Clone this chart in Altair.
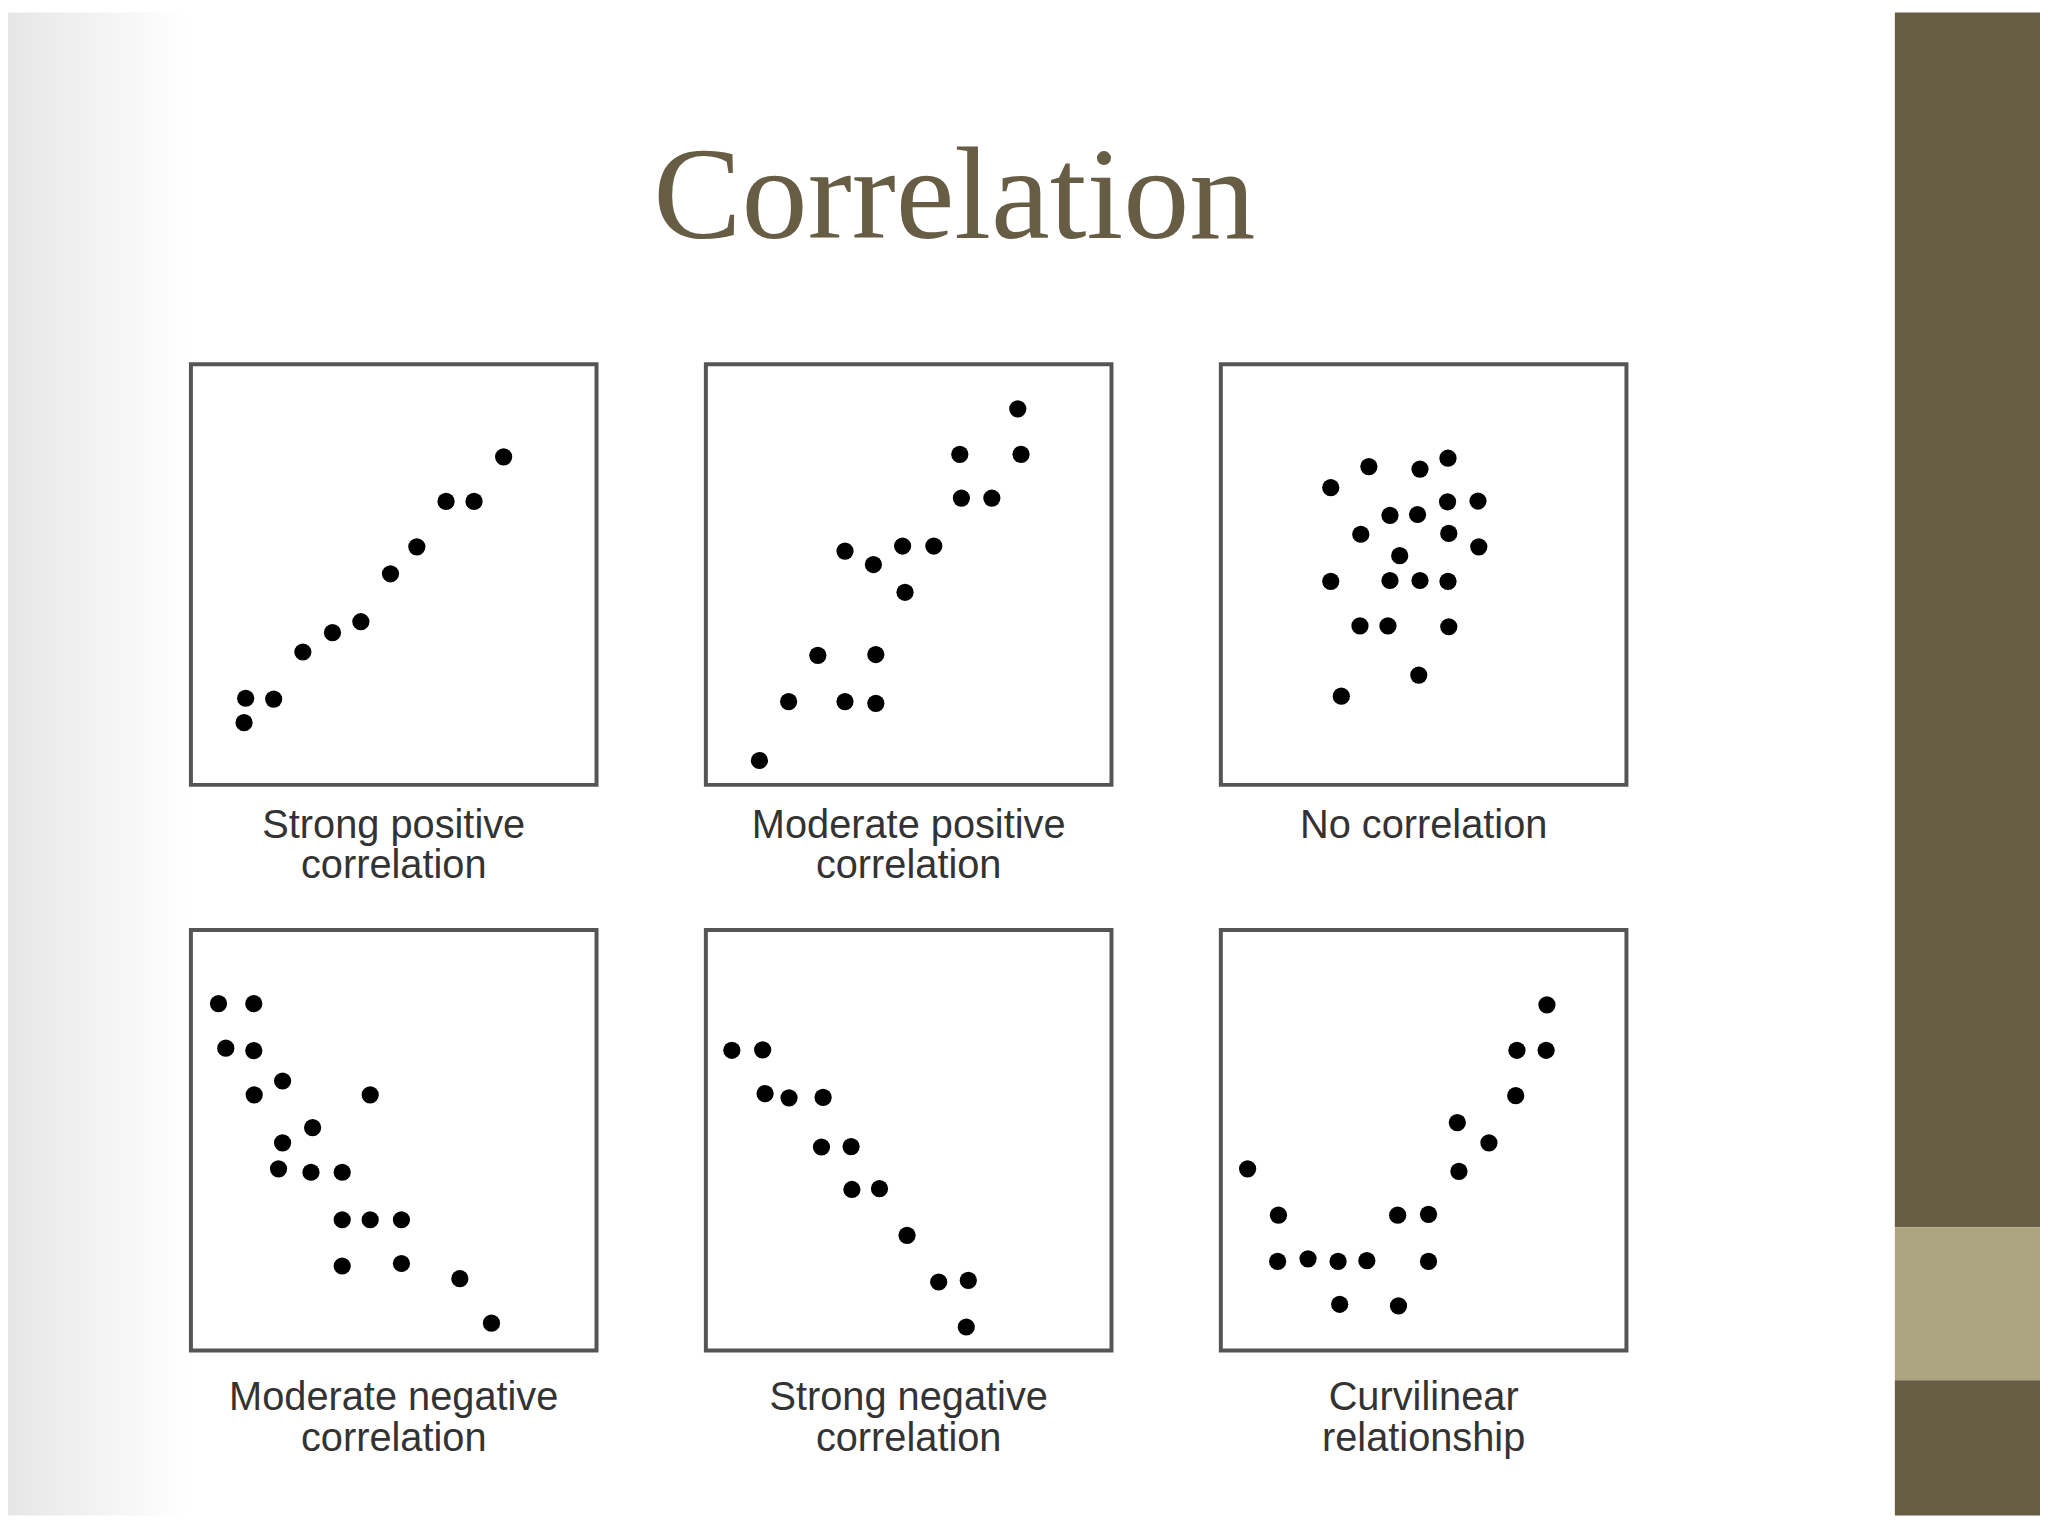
import altair as alt
import pandas as pd

# ---------------- data (panel coordinates, 0-100 in each box) ----------------
sp_x = [77.1, 62.9, 69.8, 55.7, 49.2, 41.9, 34.9, 27.6, 13.5, 20.4, 13.1]
sp_y = [78.0, 67.4, 67.4, 56.6, 50.2, 38.8, 36.2, 31.6, 20.6, 20.4, 14.8]

mp_x = [76.9, 62.6, 77.7, 63.0, 70.5, 34.3, 41.3, 48.5, 56.2, 49.1, 27.6, 41.9, 20.4, 34.3, 41.9, 13.2]
mp_y = [89.4, 78.6, 78.6, 68.2, 68.2, 55.6, 52.4, 56.8, 56.8, 45.8, 30.8, 31.0, 19.8, 19.8, 19.4, 5.8]

nc_x = [36.5, 49.1, 56.0, 27.1, 55.9, 63.4, 41.7, 48.5, 34.5, 56.2, 63.6, 44.1, 27.1, 41.7, 49.1, 56.0,
        34.3, 41.2, 56.2, 48.8, 29.7]
nc_y = [75.7, 75.1, 77.7, 70.7, 67.3, 67.5, 64.1, 64.3, 59.6, 59.8, 56.6, 54.5, 48.4, 48.6, 48.6, 48.4,
        37.8, 37.8, 37.6, 26.1, 21.1]

mn_x = [6.8, 15.5, 8.6, 15.5, 22.6, 15.6, 44.2, 30.0, 22.6, 21.6, 29.6, 37.3, 37.3, 44.2, 51.9, 37.3,
        51.9, 66.3, 74.1]
mn_y = [82.5, 82.5, 71.9, 71.3, 64.1, 60.8, 60.8, 53.0, 49.4, 43.2, 42.4, 42.4, 31.1, 31.1, 31.1, 20.1,
        20.7, 17.1, 6.5]

sn_x = [6.4, 14.0, 14.6, 20.5, 28.9, 28.5, 35.8, 36.0, 42.8, 49.6, 57.4, 64.7, 64.2]
sn_y = [71.4, 71.5, 61.1, 60.1, 60.2, 48.4, 48.5, 38.3, 38.5, 27.4, 16.3, 16.7, 5.6]

cv_x = [80.4, 73.0, 80.2, 72.7, 58.3, 66.1, 58.7, 6.6, 14.2, 43.6, 51.2, 14.0, 21.5, 28.9, 36.0, 51.2,
        29.3, 43.8]
cv_y = [82.2, 71.4, 71.4, 60.6, 54.2, 49.4, 42.6, 43.2, 32.2, 32.2, 32.4, 21.2, 21.8, 21.2, 21.4, 21.2,
        11.0, 10.6]

labels = [
    ["Strong positive", "correlation"],
    ["Moderate positive", "correlation"],
    ["No correlation"],
    ["Moderate negative", "correlation"],
    ["Strong negative", "correlation"],
    ["Curvilinear", "relationship"],
]
title_text = ["Correlation"]

# decoration bands on the right edge of the slide
band_start = [0, 1222, 1376]
band_end = [1222, 1376, 1512]
band_col = ["#675D45", "#AAA57E", "#675D45"]

# ---------------- style ----------------
DARK = "#675D45"
PW, PH = 408, 423
PAGE_H = 1512


def panel(xs, ys, label, offset):
    df = pd.DataFrame({"x": xs, "y": ys})
    return (
        alt.Chart(
            df,
            title=alt.TitleParams(
                label, orient="bottom", anchor="middle", fontSize=40,
                font="Liberation Sans", color="#333333", fontWeight="normal",
                offset=offset, lineHeight=41,
            ),
            view=alt.ViewBackground(stroke="#555555", strokeWidth=4, fill="white"),
        )
        .mark_circle(size=300, color="black", opacity=1)
        .encode(
            x=alt.X("x:Q", scale=alt.Scale(domain=[0, 100], nice=False, zero=False), axis=None),
            y=alt.Y("y:Q", scale=alt.Scale(domain=[0, 100], nice=False, zero=False), axis=None),
        )
        .properties(width=PW, height=PH)
    )


p1 = panel(sp_x, sp_y, labels[0], 21)
p2 = panel(mp_x, mp_y, labels[1], 21)
p3 = panel(nc_x, nc_y, labels[2], 21)
p4 = panel(mn_x, mn_y, labels[3], 28)
p5 = panel(sn_x, sn_y, labels[4], 28)
p6 = panel(cv_x, cv_y, labels[5], 28)

row1 = alt.hconcat(p1, p2, p3, spacing=106)
row2 = alt.hconcat(p4, p5, p6, spacing=106)

title_chart = (
    alt.Chart(pd.DataFrame({"t": title_text}))
    .mark_text(font="Liberation Serif", fontSize=133, color=DARK, align="center",
               baseline="alphabetic")
    .encode(text="t:N", x=alt.value(768), y=alt.value(227))
    .properties(width=3 * PW + 2 * 106, height=304)
)

main = alt.vconcat(title_chart, row1, row2, spacing=44)
main = alt.VConcatChart(vconcat=[title_chart, alt.vconcat(row1, row2, spacing=40)], spacing=48)

# left vignette strip
left_strip = (
    alt.Chart(pd.DataFrame({"k": [0]}))
    .mark_rect(
        color=alt.Gradient(
            gradient="linear", x1=0, x2=1, y1=0, y2=0,
            stops=[alt.GradientStop(color="#e6e6e6", offset=0),
                   alt.GradientStop(color="#f4f4f4", offset=0.55),
                   alt.GradientStop(color="#ffffff", offset=1)],
        )
    )
    .encode(x=alt.value(0), x2=alt.value(182), y=alt.value(0), y2=alt.value(PAGE_H))
    .properties(width=182, height=PAGE_H)
)

band_df = pd.DataFrame({"s": band_start, "e": band_end, "c": band_col})
band = (
    alt.Chart(band_df)
    .mark_rect()
    .encode(
        y=alt.Y("s:Q", scale=alt.Scale(domain=[0, PAGE_H], reverse=True, nice=False, zero=False), axis=None),
        y2="e:Q",
        x=alt.value(0),
        x2=alt.value(146),
        color=alt.Color("c:N", scale=None),
    )
    .properties(width=146, height=PAGE_H)
)

left_and_main = alt.hconcat(left_strip, main, spacing=0)

chart = (
    alt.hconcat(left_and_main, band, spacing=268)
    .properties(padding=0)
    .configure(background="white")
    .configure_view(stroke=None)
)

chart.save("out.html", embed_options={"renderer": "svg", "actions": False})
